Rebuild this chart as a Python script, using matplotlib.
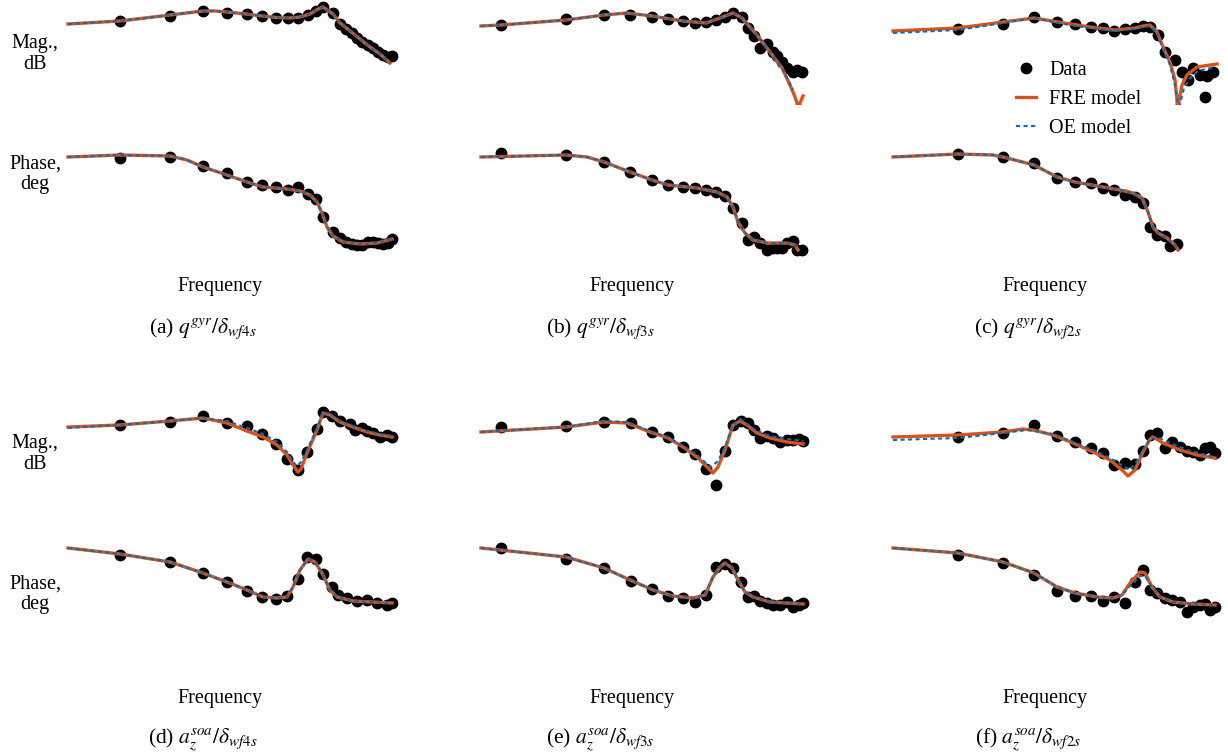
import matplotlib
matplotlib.use("Agg")
import matplotlib.pyplot as plt

plt.rcParams["font.family"] = ["Liberation Serif", "DejaVu Serif"]
plt.rcParams["mathtext.fontset"] = "stix"

FW, FH = 1228, 755
FRE_C = "#D95319"
OE_C = "#0072BD"
FS = 14.5

# --- data: frequency in relative log units, magnitude / phase in plot units
# (a) q_gyr / d_wf4s
w_a = [52, 102, 135, 159, 179, 194, 208, 220, 230, 240, 248, 255, 265, 272, 278, 284, 289, 294, 300, 305, 310, 315, 320, 324]
mag_a = [-21, -16, -10.5, -12.5, -14, -15.5, -18, -18, -18, -15, -11, -7, -13, -24, -29, -33, -38, -42, -45, -48, -52, -55, -57, -56]
ph_a = [-18, -17, -26, -33, -42, -45, -47, -50, -47, -54, -59, -77, -92, -98, -102, -104, -105, -105, -102, -102, -103, -104, -103, -99]
fre_mag_a_w = [0, 52, 102, 135, 147, 159, 178, 194, 208, 222, 232, 242, 250, 255, 265, 272, 282, 292, 302, 312, 322]
fre_mag_a = [-24, -21, -15, -11, -11, -12, -14, -16, -17.5, -18, -17, -14, -9, -7, -14, -23, -31, -39, -47, -54, -63]
oe_mag_a_w = fre_mag_a_w
oe_mag_a = fre_mag_a
fre_ph_a_w = [0, 52, 102, 119, 135, 159, 179, 195, 219, 232, 242, 249, 254, 259, 265, 275, 292, 309, 324]
fre_ph_a = [-17, -15, -16, -20, -27, -35, -42, -47, -49, -51, -55, -62, -73, -87, -96, -102, -104, -103, -99]
oe_ph_a_w = fre_ph_a_w
oe_ph_a = fre_ph_a

# (b) q_gyr / d_wf3s
w_b = [20, 85, 123, 149, 171, 187, 202, 214, 225, 235, 244, 252, 261, 267, 273, 279, 286, 292, 296, 301, 306, 312, 316, 321]
mag_b = [-25, -19, -15, -15, -17, -19, -21, -23, -22, -20, -17, -13, -17, -28, -36, -48, -44, -52, -56, -62, -68, -72, -70, -72]
ph_b = [-13, -15, -22, -32, -40, -45, -47, -48, -50, -52, -56, -68, -83, -100, -97, -103, -110, -108, -108, -108, -103, -101, -110, -110]
fre_mag_b_w = [0, 20, 85, 123, 146, 171, 202, 225, 239, 252, 261, 267, 276, 289, 301, 309, 314, 316, 317.5, 319, 322]
fre_mag_b = [-26, -25, -20, -15, -13, -16, -21, -23, -18, -13, -18, -25, -35, -52, -68, -85, -97, -103, -140, -103, -96]
oe_mag_b_w = [0, 20, 85, 123, 146, 171, 202, 225, 239, 252, 261, 267, 276, 289, 301, 309, 312]
oe_mag_b = [-26, -25, -20, -15, -13, -16, -21, -23, -18, -13, -18, -25, -35, -52, -68, -84, -90]
fre_ph_b_w = [0, 85, 106, 123, 149, 171, 187, 216, 236, 246, 252, 257, 264, 272, 286, 306, 314, 317]
fre_ph_b = [-17, -15, -17, -22, -32, -40, -45, -48, -52, -57, -67, -82, -93, -100, -103, -103, -105, -110]
oe_ph_b_w = fre_ph_b_w
oe_ph_b = fre_ph_b

# (c) q_gyr / d_wf2s
w_c_mag = [65, 110, 141, 164, 182, 198, 210, 221, 232, 242, 250, 257, 265, 272, 282, 289, 295, 300, 307, 312, 314, 320]
mag_c = [-29, -24, -17, -22, -24, -27, -28, -31, -29, -28, -26, -27, -35, -52, -60, -72, -80, -68, -75, -97, -76, -72]
w_c_ph = [65, 110, 141, 164, 182, 198, 210, 221, 232, 242, 250, 257, 264, 272, 277, 284]
ph_c = [-14, -17, -23, -38, -42, -43, -48, -50, -55, -57, -63, -87, -95, -96, -106, -104]
fre_mag_c_w = [0, 65, 110, 141, 165, 197, 222, 242, 250, 257, 264, 270, 277, 282, 284, 285, 286, 289, 294, 304, 324]
fre_mag_c = [-31, -28, -22, -18, -22, -27, -30, -28, -26, -25, -32, -47, -62, -80, -100, -140, -100, -85, -75, -67, -64]
oe_mag_c_w = [0, 65, 110, 141, 165, 197, 222, 242, 250, 257, 264, 270, 277, 282, 285, 286, 287, 291, 297, 305, 322]
oe_mag_c = [-33, -30, -23, -18, -23, -28, -31, -29, -27, -26, -33, -49, -65, -85, -104, -140, -104, -88, -78, -71, -67]
fre_ph_c_w = [0, 65, 100, 114, 141, 164, 182, 210, 227, 240, 249, 255, 260, 265, 274, 282, 285]
fre_ph_c = [-17, -14, -15, -18, -25, -37, -42, -47, -50, -53, -58, -72, -87, -93, -98, -105, -110]
oe_ph_c_w = fre_ph_c_w
oe_ph_c = fre_ph_c

# (d) az_soa / d_wf4s
w_d_mag = [52, 102, 135, 159, 179, 194, 208, 219, 230, 239, 249, 255, 264, 272, 282, 287, 294, 299, 305, 312, 319, 324]
mag_d = [-30, -27, -21, -28, -31, -39, -49, -64, -75, -57, -34, -17, -21, -26, -29, -35, -33, -36, -38, -42, -40, -42]
w_d_ph = [52, 102, 135, 159, 179, 194, 208, 219, 230, 239, 248, 255, 264, 270, 279, 289, 299, 309, 319, 324]
ph_d = [-25, -32, -43, -52, -61, -67, -69, -66, -49, -27, -29, -44, -57, -65, -68, -71, -70, -73, -75, -73]
fre_mag_d_w = [0, 52, 102, 135, 159, 179, 195, 209, 219, 225, 230, 233, 239, 249, 255, 262, 272, 285, 299, 312, 324]
fre_mag_d = [-32, -30, -26, -23, -28, -36, -42, -50, -60, -70, -77, -74, -58, -35, -18, -20, -27, -32, -37, -40, -42]
oe_mag_d_w = [0, 52, 102, 135, 159, 179, 195, 209, 219, 225, 229, 233, 239, 249, 255, 262, 272, 285, 299, 312, 324]
oe_mag_d = [-33, -30, -26, -23, -26, -33, -39, -47, -57, -67, -71, -67, -55, -33, -17, -19, -26, -31, -36, -39, -41]
fre_ph_d_w = [0, 52, 102, 132, 159, 179, 195, 209, 219, 225, 232, 240, 247, 254, 262, 269, 285, 324]
fre_ph_d = [-18, -24, -32, -42, -52, -60, -67, -68, -67, -57, -40, -29, -32, -43, -60, -67, -71, -73]
oe_ph_d_w = fre_ph_d_w
oe_ph_d = fre_ph_d

# (e) az_soa / d_wf3s
w_e = [20, 85, 123, 150, 171, 187, 202, 214, 225, 235, 244, 252, 260, 267, 273, 279, 286, 292, 299, 306, 312, 318, 322]
mag_e = [-32, -31, -27, -28, -37, -42, -52, -59, -74, -90, -56, -30, -26, -28, -35, -43, -41, -43, -47, -45, -45, -44, -46]
ph_e = [-18, -29, -38, -51, -59, -66, -68, -72, -65, -37, -34, -38, -52, -67, -66, -71, -73, -75, -75, -72, -77, -75, -73]
fre_mag_e_w = [0, 85, 123, 146, 169, 187, 202, 216, 226, 232, 237, 244, 252, 259, 266, 276, 289, 306, 322]
fre_mag_e = [-37, -32, -27, -28, -37, -43, -52, -62, -72, -78, -72, -55, -30, -26, -30, -38, -43, -47, -49]
oe_mag_e_w = [0, 85, 123, 146, 169, 187, 202, 216, 226, 230, 237, 244, 252, 259, 266, 276, 289, 306, 322]
oe_mag_e = [-37, -32, -26, -27, -36, -42, -51, -60, -69, -72, -66, -52, -30, -24, -29, -36, -41, -44, -46]
fre_ph_e_w = [0, 85, 123, 149, 172, 192, 212, 224, 232, 239, 244, 251, 257, 264, 272, 289, 322]
fre_ph_e = [-18, -27, -38, -50, -60, -66, -68, -65, -47, -37, -33, -38, -50, -62, -67, -72, -74]
oe_ph_e_w = fre_ph_e_w
oe_ph_e = fre_ph_e

# (f) az_soa / d_wf2s
w_f = [65, 110, 141, 164, 182, 198, 210, 221, 232, 242, 250, 257, 264, 272, 279, 287, 294, 300, 307, 312, 317, 322]
mag_f = [-42, -38, -30, -41, -47, -53, -58, -70, -68, -69, -56, -40, -38, -53, -47, -52, -56, -57, -60, -53, -52, -58]
ph_f = [-25, -33, -45, -61, -66, -66, -71, -67, -73, -52, -40, -60, -63, -68, -70, -72, -82, -77, -75, -74, -80, -77]
fre_mag_f_w = [0, 65, 110, 130, 140, 160, 180, 200, 217, 229, 235, 242, 250, 257, 260, 270, 287, 304, 322]
fre_mag_f = [-42, -40, -37, -34, -35, -40, -48, -57, -65, -75, -81, -75, -57, -44, -42, -48, -55, -60, -63]
oe_mag_f_w = [0, 65, 110, 134, 160, 180, 200, 217, 230, 237, 243, 250, 257, 264, 277, 294, 320]
oe_mag_f = [-45, -43, -38, -35, -39, -47, -55, -63, -71, -75, -68, -55, -44, -42, -48, -55, -62]
fre_ph_f_w = [0, 65, 110, 141, 164, 182, 204, 220, 229, 237, 247, 252, 259, 267, 280, 300, 322]
fre_ph_f = [-18, -23, -32, -43, -57, -63, -67, -68, -65, -53, -42, -43, -57, -67, -72, -74, -75]
oe_ph_f_w = [0, 65, 110, 141, 164, 182, 204, 220, 229, 237, 247, 252, 259, 267, 280, 300, 322]
oe_ph_f = [-18, -23, -32, -43, -57, -63, -67, -68, -65, -56, -46, -46, -57, -67, -72, -74, -75]

CAPTIONS = [r"(a) $q^{gyr}/\delta_{wf4s}$", r"(b) $q^{gyr}/\delta_{wf3s}$", r"(c) $q^{gyr}/\delta_{wf2s}$",
            r"(d) $a_z^{soa}/\delta_{wf4s}$", r"(e) $a_z^{soa}/\delta_{wf3s}$", r"(f) $a_z^{soa}/\delta_{wf2s}$"]

PANELS = [
    (w_a, mag_a, w_a, ph_a, fre_mag_a_w, fre_mag_a, oe_mag_a_w, oe_mag_a, fre_ph_a_w, fre_ph_a, oe_ph_a_w, oe_ph_a),
    (w_b, mag_b, w_b, ph_b, fre_mag_b_w, fre_mag_b, oe_mag_b_w, oe_mag_b, fre_ph_b_w, fre_ph_b, oe_ph_b_w, oe_ph_b),
    (w_c_mag, mag_c, w_c_ph, ph_c, fre_mag_c_w, fre_mag_c, oe_mag_c_w, oe_mag_c, fre_ph_c_w, fre_ph_c, oe_ph_c_w, oe_ph_c),
    (w_d_mag, mag_d, w_d_ph, ph_d, fre_mag_d_w, fre_mag_d, oe_mag_d_w, oe_mag_d, fre_ph_d_w, fre_ph_d, oe_ph_d_w, oe_ph_d),
    (w_e, mag_e, w_e, ph_e, fre_mag_e_w, fre_mag_e, oe_mag_e_w, oe_mag_e, fre_ph_e_w, fre_ph_e, oe_ph_e_w, oe_ph_e),
    (w_f, mag_f, w_f, ph_f, fre_mag_f_w, fre_mag_f, oe_mag_f_w, oe_mag_f, fre_ph_f_w, fre_ph_f, oe_ph_f_w, oe_ph_f),
]

# layout in pixels
COL_X0 = [68, 481, 893]
COL_CAP = [203, 600, 1028]
COL_FREQ = [220, 632, 1045]
ROWS = [  # (mag top, mag bottom, phase top, phase bottom, freq y, caption bottom, mag label y, phase label y)
    (0, 105, 140, 262, 286, 341, 54, 174),
    (395, 495, 530, 622, 699, 753, 454, 594),
]


def make_axes(fig, x0, top, bottom):
    ax = fig.add_axes([(x0 - 12) / FW, 1 - bottom / FH, 348 / FW, (bottom - top) / FH])
    ax.set_xlim(-12, 336)
    ax.set_ylim(-(bottom - top), 0)
    ax.axis("off")
    return ax


def draw(ax, w, y, fw, fy, ow, oy):
    ax.plot(w, y, "o", color="black", ms=7.5, clip_on=False, zorder=2, label="Data")
    ax.plot(fw, fy, color=FRE_C, lw=2.4, zorder=3, label="FRE model")
    ax.plot(ow, oy, color=OE_C, lw=1.5, ls=(0, (2, 1.6)), zorder=4, label="OE model")


fig = plt.figure(figsize=(FW / 100, FH / 100), dpi=100)

for i, p in enumerate(PANELS):
    r, c = divmod(i, 3)
    mt, mb, pt, pb, fy, cy, ml, pl = ROWS[r]
    ax_m = make_axes(fig, COL_X0[c], mt, mb)
    ax_p = make_axes(fig, COL_X0[c], pt, pb)
    draw(ax_m, p[0], p[1], p[4], p[5], p[6], p[7])
    draw(ax_p, p[2], p[3], p[8], p[9], p[10], p[11])
    fig.text(COL_FREQ[c] / FW, 1 - fy / FH, "Frequency", ha="center", va="center", fontsize=FS)
    fig.text(COL_CAP[c] / FW, 1 - cy / FH, CAPTIONS[i], ha="center", va="bottom", fontsize=15.5)
    if c == 0:
        fig.text(35 / FW, 1 - ml / FH, "Mag.,\ndB", ha="center", va="center",
                 fontsize=FS, linespacing=1.1)
        fig.text(35 / FW, 1 - pl / FH, "Phase,\ndeg", ha="center", va="center",
                 fontsize=FS, linespacing=1.1)
    if i == 2:
        h, l = ax_m.get_legend_handles_labels()
        fig.legend(h, l, loc="upper left", bbox_to_anchor=(1016 / FW, 1 - 61 / FH),
                   frameon=False, fontsize=FS, borderpad=0, borderaxespad=0,
                   handlelength=1.0, handletextpad=0.65, labelspacing=0.5)

fig.savefig("out.png", dpi=100, facecolor="white")
